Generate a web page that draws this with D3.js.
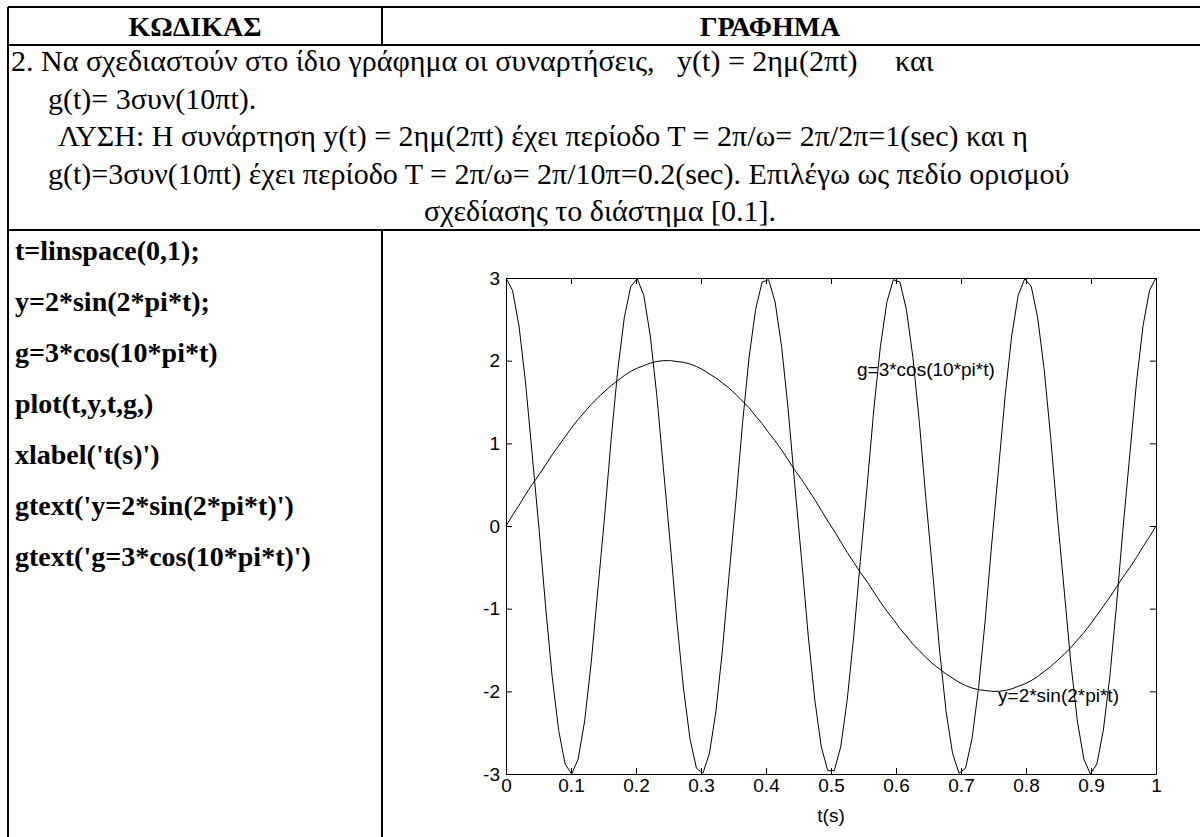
<!DOCTYPE html>
<html>
<head>
<meta charset="utf-8">
<script src="https://cdn.jsdelivr.net/npm/d3@7"></script>
<style>
  body { margin: 0; background: #fff; }
  svg text { fill: #000; }
  .serif { font-family: "Liberation Serif", "Times New Roman", serif; }
  .sans { font-family: "Liberation Sans", Arial, sans-serif; }
</style>
</head>
<body>
<script>
  /* DATA: t = linspace(0,1) (100 samples), y = 2*sin(2*pi*t), g = 3*cos(10*pi*t) */
  var tValues = [0, .010, .020, .030, .040, .051, .061, .071, .081, .091,
    .101, .111, .121, .131, .141, .152, .162, .172, .182, .192,
    .202, .212, .222, .232, .242, .253, .263, .273, .283, .293,
    .303, .313, .323, .333, .343, .354, .364, .374, .384, .394,
    .404, .414, .424, .434, .444, .455, .465, .475, .485, .495,
    .505, .515, .525, .535, .545, .556, .566, .576, .586, .596,
    .606, .616, .626, .636, .646, .657, .667, .677, .687, .697,
    .707, .717, .727, .737, .747, .758, .768, .778, .788, .798,
    .808, .818, .828, .838, .848, .859, .869, .879, .889, .899,
    .909, .919, .929, .939, .949, .960, .970, .980, .990, 1];

  var yValues = [0, 0.13, 0.25, 0.38, 0.50, 0.62, 0.74, 0.86, 0.97, 1.08,
    1.19, 1.29, 1.38, 1.47, 1.55, 1.63, 1.70, 1.76, 1.82, 1.87,
    1.91, 1.94, 1.97, 1.99, 2.00, 2.00, 1.99, 1.98, 1.96, 1.93,
    1.89, 1.84, 1.79, 1.73, 1.67, 1.59, 1.51, 1.43, 1.33, 1.24,
    1.13, 1.03, 0.92, 0.80, 0.68, 0.56, 0.44, 0.32, 0.19, 0.06,
    -0.06, -0.19, -0.32, -0.44, -0.56, -0.68, -0.80, -0.92, -1.03, -1.13,
    -1.24, -1.33, -1.43, -1.51, -1.59, -1.67, -1.73, -1.79, -1.84, -1.89,
    -1.93, -1.96, -1.98, -1.99, -2.00, -2.00, -1.99, -1.97, -1.94, -1.91,
    -1.87, -1.82, -1.76, -1.70, -1.63, -1.55, -1.47, -1.38, -1.29, -1.19,
    -1.08, -0.97, -0.86, -0.74, -0.62, -0.50, -0.38, -0.25, -0.13, 0];

  var gValues = [3.00, 2.85, 2.42, 1.74, 0.89, -0.05, -0.98, -1.82, -2.47, -2.88,
    -3.00, -2.82, -2.36, -1.66, -0.80, 0.14, 1.07, 1.89, 2.52, 2.90,
    2.99, 2.79, 2.30, 1.58, 0.71, -0.24, -1.16, -1.96, -2.57, -2.93,
    -2.99, -2.75, -2.24, -1.50, -0.61, 0.33, 1.25, 2.04, 2.62, 2.95,
    2.98, 2.71, 2.17, 1.42, 0.52, -0.43, -1.33, -2.10, -2.67, -2.96,
    -2.96, -2.67, -2.10, -1.33, -0.43, 0.52, 1.42, 2.17, 2.71, 2.98,
    2.95, 2.62, 2.04, 1.25, 0.33, -0.61, -1.50, -2.24, -2.75, -2.99,
    -2.93, -2.57, -1.96, -1.16, -0.24, 0.71, 1.58, 2.30, 2.79, 2.99,
    2.90, 2.52, 1.89, 1.07, 0.14, -0.80, -1.66, -2.36, -2.82, -3.00,
    -2.88, -2.47, -1.82, -0.98, -0.05, 0.89, 1.74, 2.42, 2.85, 3.00];

  var xTicks = [0, 0.1, 0.2, 0.3, 0.4, 0.5, 0.6, 0.7, 0.8, 0.9, 1];
  var yTicks = [-3, -2, -1, 0, 1, 2, 3];

  // gtext labels, placed in data units (left edge, baseline)
  var labelTexts = ["g=3*cos(10*pi*t)", "y=2*sin(2*pi*t)"];
  var labelT = [0.54, 0.757];
  var labelV = [1.81, -2.13];

  var headerTexts = ["ΚΩΔΙΚΑΣ", "ΓΡΑΦΗΜΑ"];
  var taskLines = [
    "2. Να σχεδιαστούν στο ίδιο γράφημα οι συναρτήσεις,   y(t) = 2ημ(2πt)     και",
    "g(t)= 3συν(10πt).",
    "ΛΥΣΗ: Η συνάρτηση y(t) = 2ημ(2πt) έχει περίοδο Τ = 2π/ω= 2π/2π=1(sec) και η",
    "g(t)=3συν(10πt) έχει περίοδο Τ = 2π/ω= 2π/10π=0.2(sec). Επιλέγω ως πεδίο ορισμού",
    "σχεδίασης το διάστημα [0.1]."
  ];
  var codeLines = [
    "t=linspace(0,1);",
    "y=2*sin(2*pi*t);",
    "g=3*cos(10*pi*t)",
    "plot(t,y,t,g,)",
    "xlabel('t(s)')",
    "gtext('y=2*sin(2*pi*t)')",
    "gtext('g=3*cos(10*pi*t)')"
  ];

  /* DIMENSIONS */
  var width = 1200;
  var height = 837;
  var table = { left: 8, top: 7, right: 1215, bottom: 850, headerBottom: 45, textBottom: 230, split: 382 };
  var plot = { left: 506, right: 1156, top: 278, bottom: 774 };

  var svg = d3.select("body")
    .append("svg")
    .attr("width", width)
    .attr("height", height);

  svg.append("rect")
    .attr("width", width)
    .attr("height", height)
    .attr("fill", "#fff");

  /* TABLE GRID */
  var grid = svg.append("g")
    .attr("stroke", "#000")
    .attr("stroke-width", 2);

  [table.top, table.headerBottom, table.textBottom].forEach(function(y) {
    grid.append("line")
      .attr("x1", table.left).attr("x2", table.right)
      .attr("y1", y).attr("y2", y);
  });
  grid.append("line")
    .attr("x1", table.left).attr("x2", table.left)
    .attr("y1", table.top).attr("y2", table.bottom);
  grid.append("line")
    .attr("x1", table.split).attr("x2", table.split)
    .attr("y1", table.top).attr("y2", table.headerBottom);
  grid.append("line")
    .attr("x1", table.split).attr("x2", table.split)
    .attr("y1", table.textBottom).attr("y2", table.bottom);

  // header
  svg.selectAll(".header")
    .data(headerTexts)
    .enter()
    .append("text")
    .attr("class", "header serif")
    .attr("x", function(d, i) { return i == 0 ? 195 : 770; })
    .attr("y", 36)
    .attr("text-anchor", "middle")
    .style("font-size", "28px")
    .style("font-weight", "bold")
    .text(function(d) { return d; });

  // task text
  var taskX = [11, 48, 58, 48, 600];
  svg.selectAll(".task")
    .data(taskLines)
    .enter()
    .append("text")
    .attr("class", "task serif")
    .attr("x", function(d, i) { return taskX[i]; })
    .attr("y", function(d, i) { return 71 + i * 37.5; })
    .attr("text-anchor", function(d, i) { return i == 4 ? "middle" : "start"; })
    .attr("xml:space", "preserve")
    .style("white-space", "pre")
    .style("font-size", "30px")
    .text(function(d) { return d; });

  // code lines
  svg.selectAll(".code")
    .data(codeLines)
    .enter()
    .append("text")
    .attr("class", "code serif")
    .attr("x", 15)
    .attr("y", function(d, i) { return 260 + i * 51; })
    .style("font-size", "28px")
    .style("font-weight", "bold")
    .text(function(d) { return d; });

  /* PLOT */
  var xScale = d3.scaleLinear()
    .domain([0, 1])
    .range([plot.left, plot.right]);

  var yScale = d3.scaleLinear()
    .domain([-3, 3])
    .range([plot.bottom, plot.top]);

  var fmt = function(d) { return String(+d.toFixed(1)); };

  var axisStyle = function(g) {
    g.attr("font-family", null).attr("font-size", null);
    g.selectAll("text")
      .attr("class", "sans")
      .style("font-size", "19px")
      .attr("fill", "#000");
    g.selectAll("line").attr("stroke", "#000");
    g.select(".domain").attr("stroke", "#000");
  };

  svg.append("g")
    .attr("transform", `translate(0,${plot.bottom})`)
    .call(d3.axisBottom(xScale).tickValues(xTicks).tickFormat(fmt).tickSize(-6).tickSizeOuter(0).tickPadding(5))
    .call(axisStyle);

  svg.append("g")
    .attr("transform", `translate(0,${plot.top})`)
    .call(d3.axisTop(xScale).tickValues(xTicks).tickFormat("").tickSize(-6).tickSizeOuter(0))
    .call(axisStyle);

  svg.append("g")
    .attr("transform", `translate(${plot.left},0)`)
    .call(d3.axisLeft(yScale).tickValues(yTicks).tickFormat(fmt).tickSize(-6).tickSizeOuter(0).tickPadding(6))
    .call(axisStyle);

  svg.append("g")
    .attr("transform", `translate(${plot.right},0)`)
    .call(d3.axisRight(yScale).tickValues(yTicks).tickFormat("").tickSize(-6).tickSizeOuter(0))
    .call(axisStyle);

  var drawLine = d3.line()
    .x(function(d) { return xScale(d[0]); })
    .y(function(d) { return yScale(d[1]); });

  [yValues, gValues].forEach(function(series) {
    svg.append("path")
      .datum(tValues.map(function(t, i) { return [t, series[i]]; }))
      .attr("fill", "none")
      .attr("stroke", "#000")
      .attr("stroke-width", 1)
      .attr("d", drawLine);
  });

  svg.append("text")
    .attr("class", "sans")
    .attr("x", xScale(0.5))
    .attr("y", plot.bottom + 48)
    .attr("text-anchor", "middle")
    .style("font-size", "19px")
    .text("t(s)");

  svg.selectAll(".gtext")
    .data(labelTexts)
    .enter()
    .append("text")
    .attr("class", "gtext sans")
    .attr("x", function(d, i) { return xScale(labelT[i]); })
    .attr("y", function(d, i) { return yScale(labelV[i]); })
    .style("font-size", "19px")
    .text(function(d) { return d; });
</script>
</body>
</html>
